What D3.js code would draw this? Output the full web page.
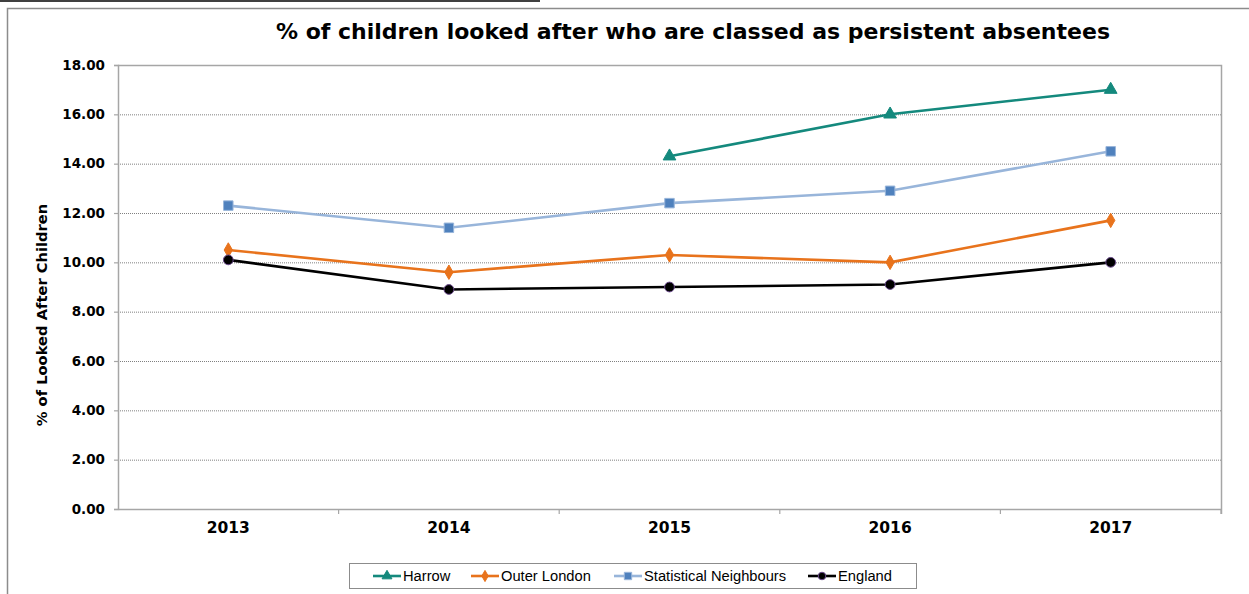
<!DOCTYPE html>
<html lang="en">
<head>
<meta charset="UTF-8" />
<title>% of children looked after who are classed as persistent absentees</title>
<style>
  body { margin: 0; background: #fff; }
  svg { display: block; }
</style>
</head>
<body>
<div id="chart"></div>
<script src="https://d3js.org/d3.v7.min.js"></script>
<script>
  const years = ["2013", "2014", "2015", "2016", "2017"];
  const yTicks = [0, 2, 4, 6, 8, 10, 12, 14, 16, 18];

  const harrow = [null, null, 14.3, 16.0, 17.0];
  const outerLondon = [10.5, 9.6, 10.3, 10.0, 11.7];
  const statNeighbours = [12.3, 11.4, 12.4, 12.9, 14.5];
  const england = [10.1, 8.9, 9.0, 9.1, 10.0];

  const series = [
    { name: "Harrow", values: harrow, line: "#14897d", fill: "#14897d", stroke: "#14897d", symbol: d3.symbolTriangle, size: 70 },
    { name: "Outer London", values: outerLondon, line: "#e8731c", fill: "#e8731c", stroke: "#e8731c", symbol: d3.symbolDiamond, size: 60 },
    { name: "Statistical Neighbours", values: statNeighbours, line: "#98b5da", fill: "#4f81bd", stroke: "#98b5da", symbol: d3.symbolSquare, size: 90 },
    { name: "England", values: england, line: "#000000", fill: "#000000", stroke: "#6a4a8c", symbol: d3.symbolCircle, size: 75 }
  ];

  const W = 1249, H = 594;
  const plot = { left: 118, right: 1221, top: 65, bottom: 509 };
  const font = "'DejaVu Sans', Verdana, sans-serif";

  const svg = d3.select("#chart").append("svg")
    .attr("width", W)
    .attr("height", H);

  // outer chart frame
  svg.append("line").attr("x1", 0).attr("x2", 540).attr("y1", 1).attr("y2", 1)
    .attr("stroke", "#000").attr("stroke-width", 1.5);
  svg.append("path")
    .attr("d", `M7.5,${H}V8.5H${W}`)
    .attr("fill", "none").attr("stroke", "#8c8c8c").attr("stroke-width", 1.5);

  const x = d3.scaleBand().domain(years).range([plot.left, plot.right]);
  const y = d3.scaleLinear().domain([0, 18]).range([plot.bottom, plot.top]);

  // gridlines
  svg.append("g")
    .selectAll("line")
    .data(yTicks.filter(t => t > 0 && t < 18))
    .join("line")
    .attr("x1", plot.left).attr("x2", plot.right)
    .attr("y1", d => y(d) + 0.5).attr("y2", d => y(d) + 0.5)
    .attr("stroke", "#808080")
    .attr("stroke-width", 1)
    .attr("stroke-dasharray", "1,1");

  // plot border top/right
  svg.append("path")
    .attr("d", `M${plot.left},${plot.top + 0.5}H${plot.right + 0.5}V${plot.bottom + 5}`)
    .attr("fill", "none").attr("stroke", "#a6a6a6").attr("stroke-width", 1.5);

  // y axis
  const yAxis = svg.append("g")
    .attr("transform", `translate(${plot.left},0)`)
    .call(d3.axisLeft(y).tickValues(yTicks).tickFormat(d3.format(".2f")).tickSize(4).tickPadding(9));
  yAxis.select(".domain").attr("stroke", "#a6a6a6").attr("stroke-width", 1.5);
  yAxis.selectAll(".tick line").attr("stroke", "#a6a6a6").attr("stroke-width", 1.2);
  yAxis.selectAll("text")
    .attr("font-family", font).attr("font-weight", "bold").attr("font-size", 13.5).attr("fill", "#000");

  // x axis
  const xAxis = svg.append("g")
    .attr("transform", `translate(0,${plot.bottom})`)
    .call(d3.axisBottom(x).tickSize(0).tickPadding(13));
  xAxis.select(".domain").attr("stroke", "#a6a6a6").attr("stroke-width", 1.5);
  xAxis.selectAll("text")
    .attr("font-family", font).attr("font-weight", "bold").attr("font-size", 15.5).attr("fill", "#000");
  // category boundary ticks
  xAxis.append("g").selectAll("line")
    .data(years)
    .join("line")
    .attr("x1", d => x(d) + x.bandwidth()).attr("x2", d => x(d) + x.bandwidth())
    .attr("y1", 0).attr("y2", 5)
    .attr("stroke", "#a6a6a6").attr("stroke-width", 1.2);

  // y axis title
  svg.append("text")
    .attr("transform", `translate(47,315) rotate(-90)`)
    .attr("text-anchor", "middle")
    .attr("font-family", font).attr("font-weight", "bold").attr("font-size", 14.7)
    .text("% of Looked After Children");

  // title
  svg.append("text")
    .attr("x", 693).attr("y", 39)
    .attr("text-anchor", "middle")
    .attr("font-family", font).attr("font-weight", "bold").attr("font-size", 22)
    .text("% of children looked after who are classed as persistent absentees");

  // lines
  const line = d3.line()
    .defined(d => d.v != null)
    .x(d => x(d.year) + x.bandwidth() / 2)
    .y(d => y(d.v));

  series.forEach(s => {
    const pts = years.map((yr, i) => ({ year: yr, v: s.values[i] }));
    svg.append("path")
      .datum(pts)
      .attr("d", line)
      .attr("fill", "none")
      .attr("stroke", s.line)
      .attr("stroke-width", 2.6);
    svg.append("g").selectAll("path")
      .data(pts.filter(d => d.v != null))
      .join("path")
      .attr("transform", d => `translate(${x(d.year) + x.bandwidth() / 2},${y(d.v)})`)
      .attr("d", d3.symbol().type(s.symbol).size(s.size))
      .attr("fill", s.fill)
      .attr("stroke", s.stroke)
      .attr("stroke-width", 1);
  });

  // legend
  const legend = svg.append("g");
  legend.append("rect")
    .attr("x", 349.5).attr("y", 563.5).attr("width", 567).attr("height", 25)
    .attr("fill", "#fff").attr("stroke", "#8c8c8c").attr("stroke-width", 1);
  const legendX = [373, 471, 614, 808];
  series.forEach((s, i) => {
    const lx = legendX[i], ly = 576;
    legend.append("line")
      .attr("x1", lx).attr("x2", lx + 28).attr("y1", ly).attr("y2", ly)
      .attr("stroke", s.line).attr("stroke-width", 2.6);
    legend.append("path")
      .attr("transform", `translate(${lx + 14},${ly})`)
      .attr("d", d3.symbol().type(s.symbol).size(s.size * 0.6))
      .attr("fill", s.fill).attr("stroke", s.stroke).attr("stroke-width", 1);
    legend.append("text")
      .attr("x", lx + 30).attr("y", ly + 5)
      .attr("font-family", "'Liberation Sans', Arial, sans-serif").attr("font-size", 14.7)
      .attr("fill", "#000")
      .text(s.name);
  });
</script>
</body>
</html>
